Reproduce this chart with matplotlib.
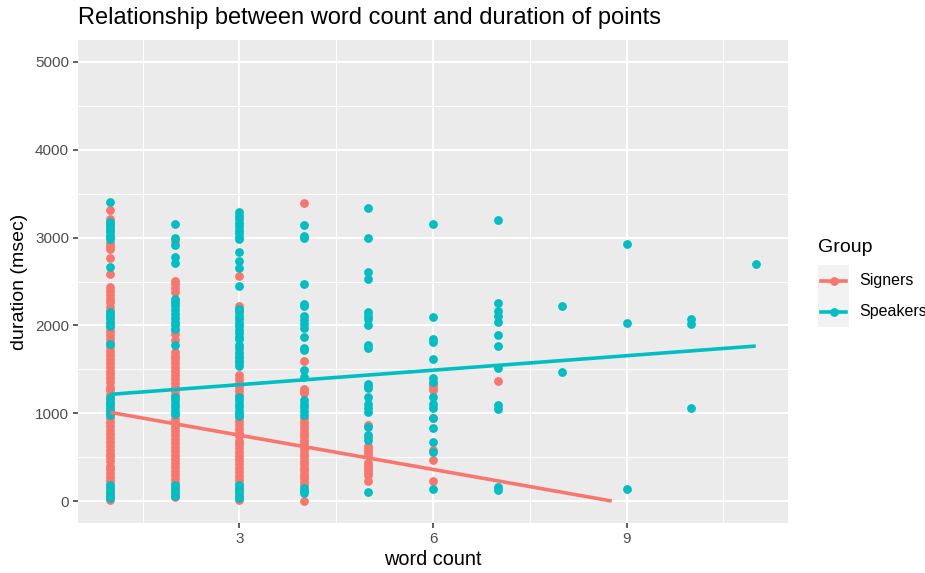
import matplotlib
matplotlib.use("Agg")
import matplotlib.pyplot as plt
from matplotlib.lines import Line2D
from matplotlib.patches import Rectangle
import numpy as np

plt.rcParams['font.family'] = ['Liberation Sans', 'DejaVu Sans']

# ---------------- data ----------------
signers_w1 = [3314, 3208, 3170, 3128, 3082, 3020, 2944, 2900, 2868, 2763, 2585,
              2434, 2392, 2348, 2301, 2262, 2214, 2168, 2122, 2079, 2031, 1986, 1938,
              1893, 1848, 1802, 1757, 1709, 1666, 1618, 1574, 1531, 1482, 1441, 1396,
              1352, 1303, 1259, 1213, 1168, 1126, 1079, 1036, 991, 947, 899, 856, 812,
              766, 721, 674, 632, 585, 541, 496, 452, 404, 361, 316, 271, 226, 181,
              136, 92, 48, 8]
speakers_w1 = [3405, 3175, 3140, 3100, 3060, 3020, 2982, 2661, 2154, 2120, 2080,
               2040, 1995, 1790, 1168, 1130, 1090, 1050, 1010, 975, 181, 150, 110, 70, 34]

signers_w2 = [2963, 2509, 2470, 2430, 2378, 2280, 1950, 1900, 1829, 1700, 1655,
              1612, 1568, 1524, 1481, 1438, 1394, 1349, 1302, 1251, 1203, 975, 931,
              884, 842, 796, 748, 703, 661, 614, 571, 526, 479, 436, 391, 344, 301,
              254, 211, 166, 121, 78, 45]
speakers_w2 = [3152, 3001, 2914, 2774, 2710, 2302, 2258, 2216, 2171, 2128, 2086,
               2041, 1999, 1961, 1773, 1190, 1152, 1109, 1071, 1029, 990, 181, 140,
               100, 60]

signers_w3 = [2566, 2226, 2180, 1700, 1642, 1598, 1561, 1432, 1389, 1346, 1298,
              1251, 1205, 960, 914, 871, 826, 779, 736, 689, 646, 601, 553, 511, 466,
              419, 376, 331, 284, 241, 196, 149, 106, 61, 15]
speakers_w3 = [3288, 3249, 3211, 3169, 3131, 3089, 3052, 3012, 2982, 2838, 2736,
               2650, 2453, 2188, 2149, 2111, 2069, 2031, 1989, 1951, 1909, 1871,
               1848, 1780, 1739, 1688, 1641, 1592, 1540, 1190, 1151, 1109, 1072,
               1029, 991, 964, 181, 140, 100, 60, 34]

signers_w4 = [3390, 1591, 1281, 1250, 1225, 941, 901, 858, 821, 779, 742, 699,
              661, 618, 582, 539, 501, 459, 421, 378, 341, 299, 262, 219, 185, 3]
speakers_w4 = [3141, 3020, 2990, 2472, 2245, 2218, 2105, 2060, 2018, 1969, 1867,
               1742, 1716, 1489, 1413, 1149, 1110, 1070, 1030, 978, 147, 120, 91]

signers_w5 = [865, 733, 624, 590, 560, 525, 431, 400, 365, 330, 298, 223]
speakers_w5 = [3341, 2990, 2604, 2528, 2150, 2112, 2075, 2007, 1772, 1742, 1338,
               1310, 1289, 1187, 1100, 1054, 1017, 840, 756, 700, 102]

signers_w6 = [1338, 1300, 1262, 949, 582, 468, 230]
speakers_w6 = [3160, 2094, 1848, 1810, 1621, 1402, 1357, 1187, 1100, 1062, 941,
               828, 677, 560, 136]

signers_w7 = [1364]
speakers_w7 = [3201, 2256, 2169, 2112, 2037, 1893, 1765, 1519, 1092, 1047, 155, 128]
speakers_w8 = [2226, 1474]
speakers_w9 = [2925, 2022, 136]
speakers_w10 = [2075, 2018, 1054]
speakers_w11 = [2695]

signers_by_count = {1: signers_w1, 2: signers_w2, 3: signers_w3, 4: signers_w4,
                    5: signers_w5, 6: signers_w6, 7: signers_w7}
speakers_by_count = {1: speakers_w1, 2: speakers_w2, 3: speakers_w3, 4: speakers_w4,
                     5: speakers_w5, 6: speakers_w6, 7: speakers_w7, 8: speakers_w8,
                     9: speakers_w9, 10: speakers_w10, 11: speakers_w11}

# fitted linear trends (intercept, slope)
signers_fit = (1140, -130)
speakers_fit = (1160, 55)

groups = ["Signers", "Speakers"]
colors = ["#F8766D", "#00BFC4"]

x_ticks = [3, 6, 9]
y_ticks = [0, 1000, 2000, 3000, 4000, 5000]

# ---------------- figure ----------------
W, H = 925, 573
fig = plt.figure(figsize=(W / 100, H / 100), dpi=100)
ax = fig.add_axes([78 / W, 1 - 523 / H, (788 - 78) / W, (523 - 40) / H])
ax.set_facecolor("#EBEBEB")

def flatten(d):
    xs, ys = [], []
    for k, vals in d.items():
        xs.extend([k] * len(vals))
        ys.extend(vals)
    return np.array(xs, float), np.array(ys, float)

sx, sy = flatten(signers_by_count)
px, py = flatten(speakers_by_count)

ax.scatter(sx, sy, s=40, color=colors[0], linewidths=0, zorder=3)
ax.scatter(px, py, s=40, color=colors[1], linewidths=0, zorder=3)

# regression lines (clipped at y >= 0 as in the reference)
xmin_all = min(sx.min(), px.min())
xmax_all = max(sx.max(), px.max())
b0, b1 = signers_fit
x_end = min(xmax_all, -b0 / b1)
xl = np.array([xmin_all, x_end])
ax.plot(xl, b0 + b1 * xl, color=colors[0], lw=2.6, zorder=4, solid_capstyle="butt")
c0, c1 = speakers_fit
xl2 = np.array([xmin_all, xmax_all])
ax.plot(xl2, c0 + c1 * xl2, color=colors[1], lw=2.6, zorder=4, solid_capstyle="butt")

ax.set_xlim(0.5, 11.5)
ax.set_ylim(-250, 5250)
ax.set_xticks(x_ticks)
ax.set_yticks(y_ticks)
ax.set_xticks([1.5, 4.5, 7.5, 10.5], minor=True)
ax.set_yticks([500, 1500, 2500, 3500, 4500], minor=True)
ax.grid(True, which="major", color="white", lw=1.4, zorder=0)
ax.grid(True, which="minor", color="white", lw=0.7, zorder=0)
ax.set_axisbelow(True)
for sp in ax.spines.values():
    sp.set_visible(False)
ax.tick_params(which="major", length=3.5, width=1.1, color="#333333",
               labelcolor="#4D4D4D", labelsize=11, pad=3)
ax.tick_params(which="minor", length=0)

ax.set_xlabel("word count", fontsize=14.3, color="black", labelpad=3)
ax.set_ylabel("duration (msec)", fontsize=14, color="black", labelpad=5)
fig.text(78 / W, 1 - 18 / H, "Relationship between word count and duration of points",
         fontsize=17, ha="left", va="center")

# legend drawn by hand (ggplot style: grey key boxes with line + point)
fig.text(818 / W, 1 - 248 / H, "Group", fontsize=14, ha="left", va="center")
key_top = 265
key_h = 31
for i, (g, c) in enumerate(zip(groups, colors)):
    y0 = key_top + i * key_h
    fig.patches.append(Rectangle((818 / W, 1 - (y0 + key_h) / H), 31 / W, key_h / H,
                                 transform=fig.transFigure, facecolor="#F2F2F2",
                                 edgecolor="none", zorder=1))
    yc = 1 - (y0 + key_h / 2) / H
    fig.lines.append(Line2D([821 / W, 846 / W], [yc, yc], transform=fig.transFigure,
                            color=c, lw=2.6, zorder=2))
    fig.lines.append(Line2D([833.5 / W], [yc], transform=fig.transFigure, color=c,
                            marker="o", markersize=6.3, markeredgewidth=0,
                            linestyle="none", zorder=3))
    fig.text(859 / W, yc, g, fontsize=11.5, ha="left", va="center")

fig.savefig("out.png", dpi=100)
